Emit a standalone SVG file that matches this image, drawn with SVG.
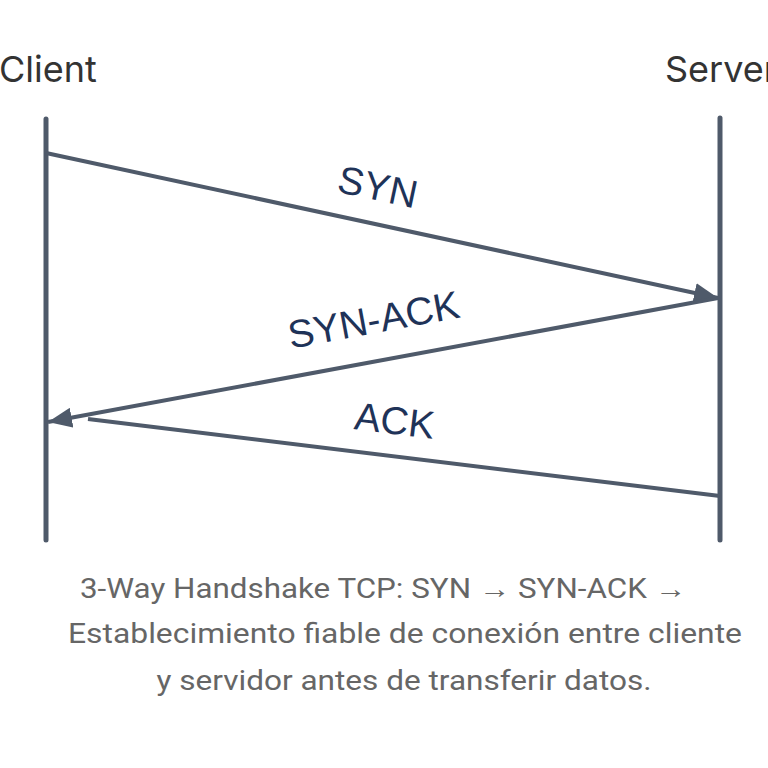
<svg xmlns="http://www.w3.org/2000/svg" width="768" height="768" viewBox="0 0 768 768">
<style>
.life{stroke:#4f5a6a;stroke-width:5;stroke-linecap:round;fill:none}
.msg{stroke:#4f5a6a;stroke-width:4;fill:none}
.actor{font-family:Inter,"Liberation Sans",sans-serif;font-size:36px;fill:#333333}
.lbl{font-family:"Liberation Sans",Arial,sans-serif;font-size:39px;fill:#1f3358;text-anchor:middle}
.cap{font-family:Roboto,"Liberation Sans",sans-serif;font-size:27px;fill:#666666;text-anchor:middle}
</style>
<defs>
<marker id="ah" viewBox="0 0 12 10" refX="12" refY="5" markerWidth="6" markerHeight="5" markerUnits="strokeWidth" orient="auto">
<path d="M0,0 L12,5 L0,10 Z" fill="#4f5a6a"/>
</marker>
</defs>
<rect width="768" height="768" fill="#ffffff"/>
<g id="client">
<text class="actor" x="-1" y="82">Client</text>
<line class="life" x1="46" y1="119" x2="46" y2="540"/>
</g>
<g id="server">
<text class="actor" x="665" y="82">Server</text>
<line class="life" x1="720" y1="118" x2="720" y2="540"/>
</g>
<g id="connectors">
<line class="msg" x1="46" y1="153" x2="718" y2="298" marker-end="url(#ah)"/>
<line class="msg" x1="718" y1="298" x2="48" y2="422" marker-end="url(#ah)"/>
<line class="msg" x1="720" y1="496" x2="88" y2="419"/>
<text class="lbl" transform="translate(375,200) rotate(12)">SYN</text>
<text class="lbl" transform="translate(376,333) rotate(-10.5)">SYN-ACK</text>
<text class="lbl" transform="translate(393,434) rotate(7)">ACK</text>
</g>
<g id="caption">
<text class="cap" x="383" y="598" textLength="606" lengthAdjust="spacingAndGlyphs">3-Way Handshake TCP: SYN → SYN-ACK →</text>
<text class="cap" x="405" y="643" textLength="674" lengthAdjust="spacingAndGlyphs">Establecimiento fiable de conexión entre cliente</text>
<text class="cap" x="404" y="690" textLength="495" lengthAdjust="spacingAndGlyphs">y servidor antes de transferir datos.</text>
</g>
</svg>
